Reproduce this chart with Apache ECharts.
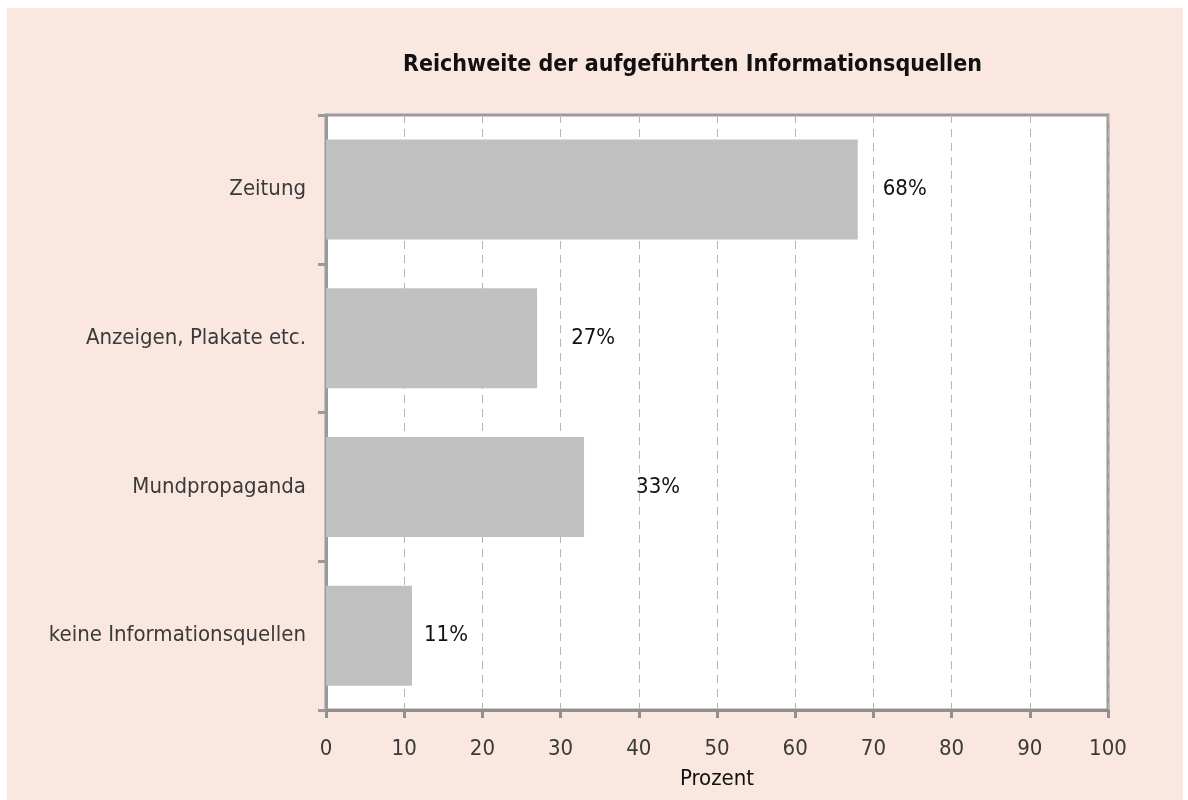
<!DOCTYPE html>
<html><head><meta charset="utf-8">
<script src="https://cdn.jsdelivr.net/npm/echarts@6/dist/echarts.min.js"></script>
<style>
html,body{margin:0;padding:0;background:#fff;}
#bg{position:absolute;left:7px;top:8px;width:1176px;height:792px;background:#fae8e0;}
#c{position:absolute;left:0;top:0;width:1188px;height:800px;}
</style></head>
<body><div id="bg"></div><div id="c"></div>
<script>
const categories = ["Zeitung", "Anzeigen, Plakate etc.", "Mundpropaganda", "keine Informationsquellen"];
const values = [68, 27, 33, 11];
const labelGaps = [25, 34, 52, 12];
const FONT = '"Liberation Sans Narrow","DejaVu Sans Condensed",sans-serif';
const chart = echarts.init(document.getElementById('c'), null, {renderer:'canvas'});
chart.setOption({
  backgroundColor: 'transparent',
  animation: false,
  title: {
    text: 'Reichweite der aufgeführten Informationsquellen',
    left: 398, top: 49,
    textStyle: {fontFamily: FONT, fontSize: 23, fontWeight: 'bold', color: '#111'}
  },
  grid: {left: 326, right: 80, top: 115, bottom: 90, show: true, backgroundColor: '#fff', borderColor: '#9a9a9a', borderWidth: 3, containLabel: false},
  xAxis: {
    type: 'value', min: 0, max: 100, interval: 10,
    name: 'Prozent', nameLocation: 'middle', nameGap: 58,
    nameTextStyle: {fontFamily: FONT, fontSize: 22, color: '#111'},
    axisLine: {show: true, lineStyle: {color: '#8f8f8f', width: 3}},
    axisTick: {show: true, length: 8, lineStyle: {color: '#8f8f8f', width: 3}},
    axisLabel: {margin: 28, fontFamily: FONT, fontSize: 22, color: '#3a3a3a'},
    splitLine: {show: true, lineStyle: {color: '#b5b5b5', type: [8, 6], width: 1}}
  },
  yAxis: {
    type: 'category', data: categories, inverse: true,
    axisLine: {show: true, lineStyle: {color: '#9a9a9a', width: 3}},
    axisTick: {show: true, length: 8, alignWithLabel: false, lineStyle: {color: '#9a9a9a', width: 3}},
    axisLabel: {margin: 20, fontFamily: FONT, fontSize: 22, color: '#3a3a3a'},
    splitLine: {show: false}
  },
  series: [{
    type: 'bar', barWidth: 100,
    itemStyle: {color: '#c0c0c0'},
    data: values.map((v, i) => ({
      value: v,
      label: {show: true, position: 'right', distance: labelGaps[i], formatter: '{c}%', fontFamily: FONT, fontSize: 22, color: '#111'}
    }))
  }]
});
</script></body></html>
